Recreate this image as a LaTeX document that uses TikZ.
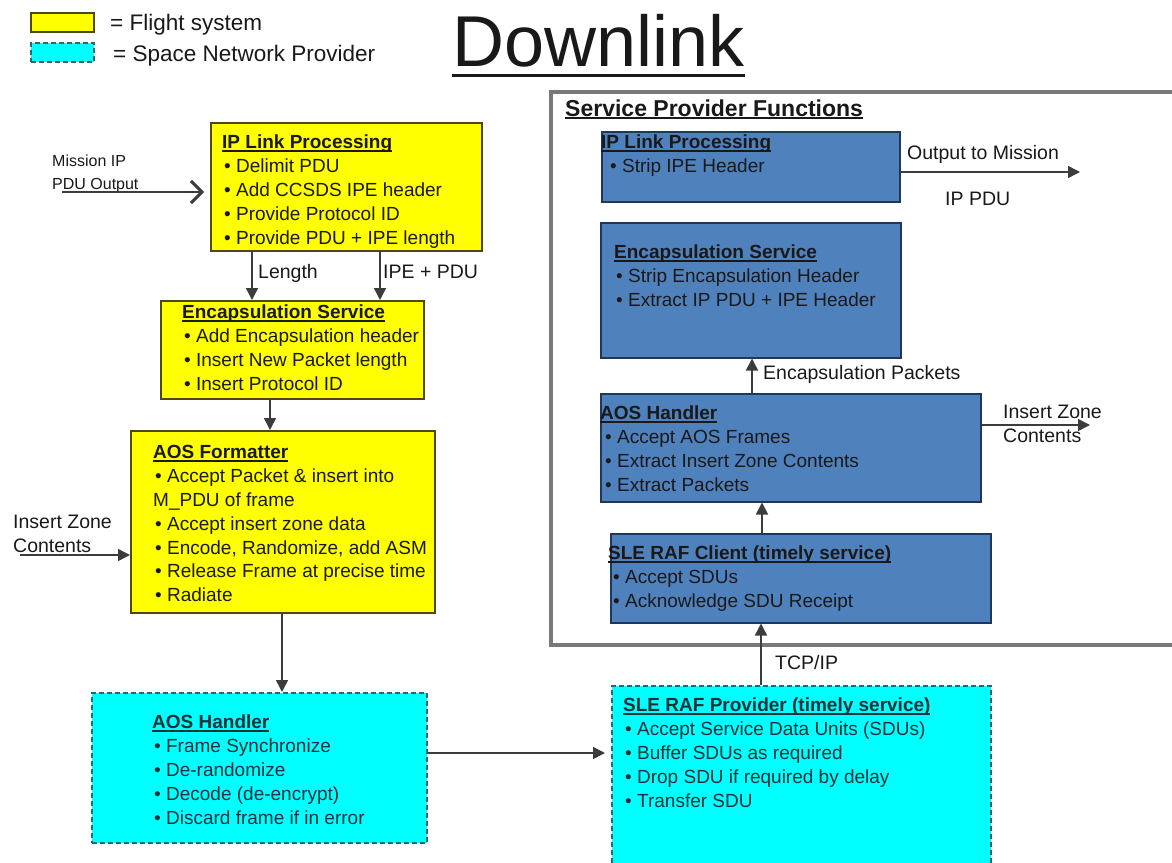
\documentclass[tikz,border=0pt]{standalone}
\usepackage{fontspec}
\setmainfont{Liberation Sans}
\usetikzlibrary{arrows.meta}
\newsavebox\ulbox
\newcommand\myul[1]{\sbox\ulbox{#1}\rlap{\rule[-2.8pt]{\wd\ulbox}{1.4pt}}\usebox\ulbox}
\newcommand\hd[1]{\strut\myul{\bfseries #1}}
\newcommand\bl{\hspace*{2pt}•\ }
\newcommand\bb{\hspace*{5pt}•\ }
\definecolor{ylw}{RGB}{255,255,0}
\definecolor{ylwd}{RGB}{80,72,20}
\definecolor{cyn}{RGB}{0,255,255}
\definecolor{cynd}{RGB}{30,105,115}
\definecolor{blu}{RGB}{79,129,189}
\definecolor{blud}{RGB}{30,55,90}
\definecolor{ln}{RGB}{60,60,60}
\definecolor{txc}{RGB}{25,25,25}
\definecolor{ctx}{RGB}{25,50,55}
\definecolor{frm}{RGB}{120,120,120}
\begin{document}
\begin{tikzpicture}[x=1pt,y=-1pt,
  boxbase/.style={rectangle,inner sep=0pt,anchor=north west,line width=1.5pt},
  ybox/.style={boxbase,fill=ylw,draw=ylwd},
  cbox/.style={boxbase,fill=cyn,draw=cynd,dash pattern=on 5pt off 3pt,line width=2pt},
  bbox/.style={boxbase,fill=blu,draw=blud},
  frame/.style={boxbase,draw=frm,line width=4pt},
  txt/.style={inner sep=0pt,align=left,anchor=north west,text=txc,font=\fontsize{19}{23.8}\selectfont},
  ctxt/.style={txt,text=ctx},
  lbl/.style={inner sep=0pt,anchor=base west,text=txc,font=\fontsize{19.5}{24}\selectfont},
  arr/.style={draw=ln,line width=1.5pt,-{Triangle[length=12pt,width=12pt]}},
  chev/.style={draw=ln,line width=1.8pt,-{Straight Barb[length=11pt,width=22pt,line width=3pt]}}
]
\useasboundingbox[fill=white] (0,0) rectangle (1172,862);

% legend
\node[ybox,minimum width=63pt,minimum height=19pt] (legy) at (30,12) {};
\node[cbox,minimum width=63pt,minimum height=19pt] (legc) at (30,42) {};
\node[lbl,font=\fontsize{22.5}{26}\selectfont] (legyt) at (110,30) {= Flight system};
\node[lbl,font=\fontsize{22.5}{26}\selectfont] (legct) at (113,61) {= Space Network Provider};

% title
\node[lbl,font=\fontsize{72}{80}\selectfont] (title) at (452,66) {Downlink};
\draw[txc,line width=3pt] ([yshift=-9pt]title.base west) -- ([yshift=-9pt]title.base east);

% flight system boxes
\node[ybox,minimum width=271pt,minimum height=128pt] (ipl) at (210,122) {};
\node[txt] (iplt) at (222,132) {\hd{IP Link Processing}\\\bl Delimit PDU\\\bl Add CCSDS IPE header\\\bl Provide Protocol ID\\\bl Provide PDU + IPE length};

\node[ybox,minimum width=263pt,minimum height=98pt] (enc) at (160,300) {};
\node[txt] (enct) at (182,302) {\hd{Encapsulation Service}\\\bl Add Encapsulation header\\\bl Insert New Packet length\\\bl Insert Protocol ID};

\node[ybox,minimum width=304pt,minimum height=182pt] (aosf) at (130,430) {};
\node[txt] (aosft) at (153,442) {\hd{AOS Formatter}\\\bl Accept Packet \& insert into\\M\_PDU of frame\\\bl Accept insert zone data\\\bl Encode, Randomize, add ASM\\\bl Release Frame at precise time\\\bl Radiate};

% space network provider boxes
\node[cbox,minimum width=335pt,minimum height=150pt] (aosc) at (91,692) {};
\node[ctxt] (aosct) at (152,712) {\hd{AOS Handler}\\\bl Frame Synchronize\\\bl De-randomize\\\bl Decode (de-encrypt)\\\bl Discard frame if in error};

\node[cbox,minimum width=379pt,minimum height=190pt] (slep) at (611,685) {};
\node[ctxt] (slept) at (623,695) {\hd{SLE RAF Provider (timely service)}\\\bl Accept Service Data Units (SDUs)\\\bl Buffer SDUs as required\\\bl Drop SDU if required by delay\\\bl Transfer SDU};

% service provider functions frame
\node[frame,minimum width=700pt,minimum height=553pt] (spf) at (549,90) {};
\node[lbl,font=\fontsize{23}{28}\selectfont\bfseries] (spft) at (565,116) {\myul{Service Provider Functions}};

\node[bbox,minimum width=298pt,minimum height=70pt] (iplb) at (601,131) {};
\node[txt] (iplbt) at (601,132) {\hd{IP Link Processing}\\\hspace*{9pt}• Strip IPE Header};

\node[bbox,minimum width=300pt,minimum height=135pt] (encb) at (600,222) {};
\node[txt] (encbt) at (614,242) {\hd{Encapsulation Service}\\\bl Strip Encapsulation Header\\\bl Extract IP PDU + IPE Header};

\node[bbox,minimum width=380pt,minimum height=108pt] (aosb) at (600,393) {};
\node[txt] (aosbt) at (600,403) {\hd{AOS Handler}\\\bb Accept AOS Frames\\\bb Extract Insert Zone Contents\\\bb Extract Packets};

\node[bbox,minimum width=380pt,minimum height=89pt] (slec) at (610,533) {};
\node[txt] (slect) at (608,543) {\hd{SLE RAF Client (timely service)}\\\bb Accept SDUs\\\bb Acknowledge SDU Receipt};

% labels
\node[txt,font=\fontsize{16}{23}\selectfont] (mipt) at (52,150) {\strut Mission IP\\PDU Output};
\node[txt,font=\fontsize{19.5}{23.8}\selectfont] (izlt) at (13,512) {\strut Insert Zone\\Contents};
\node[lbl] (lent) at (258,278) {Length};
\node[lbl] (ipet) at (383,278) {IPE + PDU};
\node[lbl] (outt) at (907,159) {Output to Mission};
\node[lbl] (ippt) at (945,205) {IP PDU};
\node[lbl] (ept) at (763,379) {Encapsulation Packets};
\node[txt,font=\fontsize{19.5}{23.8}\selectfont] (izrt) at (1003,402) {\strut Insert Zone\\Contents};
\node[lbl] (tcpt) at (775,669) {TCP/IP};

% coordinates
\coordinate (mip) at (62,192);
\coordinate (izl) at (20,555);
\coordinate (izr) at (1090,425);
\coordinate (outr) at (1080,172);
\coordinate (xL) at (252,0);
\coordinate (xI) at (380,0);
\coordinate (xE) at (270,0);
\coordinate (xA) at (282,0);
\coordinate (yS) at (0,753);
\coordinate (xT) at (761,0);
\coordinate (xC) at (762,0);
\coordinate (xP) at (752,0);

% connectors
\draw[chev] (mip) -- ([xshift=-6pt]ipl.west |- mip);
\draw[arr] (ipl.south -| xL) -- (enc.north -| xL);
\draw[arr] (ipl.south -| xI) -- (enc.north -| xI);
\draw[arr] (enc.south -| xE) -- (aosf.north -| xE);
\draw[arr] (izl) -- (aosf.west |- izl);
\draw[arr] (aosf.south -| xA) -- (aosc.north -| xA);
\draw[arr] (aosc.east |- yS) -- ([xshift=-6pt]slep.west |- yS);
\draw[arr] (slep.north -| xT) -- (slec.south -| xT);
\draw[arr] (slec.north -| xC) -- (aosb.south -| xC);
\draw[arr] (aosb.north -| xP) -- (encb.south -| xP);
\draw[arr] (aosb.east |- izr) -- (izr);
\draw[arr] (iplb.east |- outr) -- (outr);
\end{tikzpicture}
\end{document}
